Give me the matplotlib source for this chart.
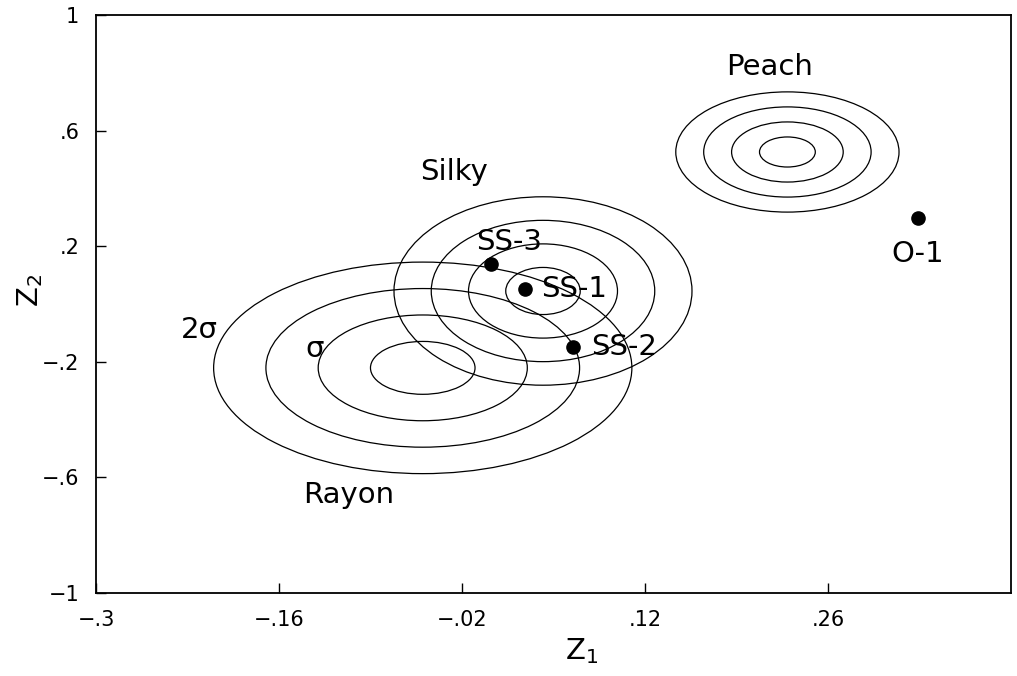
import matplotlib.pyplot as plt
from matplotlib.patches import Ellipse

# class regions: centre and spread in (Z1, Z2)
classes = ['Rayon', 'Silky', 'Peach']
center_z1 = [-0.050, 0.042, 0.229]
center_z2 = [-0.221, 0.045, 0.526]
sigma_z1 = [0.080, 0.057, 0.0427]
sigma_z2 = [0.183, 0.163, 0.104]
ring_levels = [0.5, 1.0, 1.5, 2.0]

# test samples
samples = ['SS-1', 'SS-2', 'SS-3', 'O-1']
sample_z1 = [0.028, 0.065, 0.0025, 0.329]
sample_z2 = [0.052, -0.149, 0.138, 0.298]

xticks = [-0.3, -0.16, -0.02, 0.12, 0.26]
xtick_labels = ['\u2212.3', '\u2212.16', '\u2212.02', '.12', '.26']
yticks = [-1, -0.6, -0.2, 0.2, 0.6, 1]
ytick_labels = ['\u22121', '\u2212.6', '\u2212.2', '.2', '.6', '1']

label_font = ['DejaVu Sans']
tick_font = ['Liberation Sans Narrow', 'DejaVu Sans']

fig = plt.figure(figsize=(10.17, 6.76), dpi=100)
ax = fig.add_axes([0.0944, 0.1228, 0.8996, 0.8550])

for cx, cy, sx, sy in zip(center_z1, center_z2, sigma_z1, sigma_z2):
    for k in ring_levels:
        ax.add_patch(Ellipse((cx, cy), 2 * k * sx, 2 * k * sy,
                             fill=False, edgecolor='black', linewidth=0.9))

ax.plot(sample_z1, sample_z2, 'o', color='black', markersize=9.5)

txt = dict(fontsize=21, family=label_font, color='black')
ax.text(0.215, 0.82, 'Peach', ha='center', va='center', **txt)
ax.text(-0.026, 0.457, 'Silky', ha='center', va='center', **txt)
ax.text(-0.107, -0.661, 'Rayon', ha='center', va='center', **txt)
ax.text(-0.221, -0.090, '2\u03c3', ha='center', va='center', **txt)
ax.text(-0.133, -0.156, '\u03c3', ha='center', va='center', **txt)

# sample names next to their points
offsets = {'SS-1': (0.0126, 0.0, 'left'), 'SS-2': (0.0137, 0.0, 'left'),
           'SS-3': (-0.012, 0.077, 'left'), 'O-1': (0.0, -0.125, 'center')}
for name, x, y in zip(samples, sample_z1, sample_z2):
    dx, dy, ha = offsets[name]
    ax.text(x + dx, y + dy, name, ha=ha, va='center', **txt)

ax.set_xlim(-0.3, 0.4)
ax.set_ylim(-1, 1)
ax.set_xticks(xticks)
ax.set_xticklabels(xtick_labels, family=tick_font, fontsize=15)
ax.set_yticks(yticks)
ax.set_yticklabels(ytick_labels, family=tick_font, fontsize=15)
ax.tick_params(direction='in', length=7, width=1.0, pad=12)

for sp in ax.spines.values():
    sp.set_linewidth(1.3)

ax.set_xlabel(r'$\mathregular{Z_1}$', fontsize=21, family=label_font)
ax.set_ylabel(r'$\mathregular{Z_2}$', fontsize=21, family=label_font)
ax.xaxis.set_label_coords(0.531, -0.075)
ax.yaxis.set_label_coords(-0.056, 0.524)

fig.savefig('out.png', dpi=100, facecolor='white')
